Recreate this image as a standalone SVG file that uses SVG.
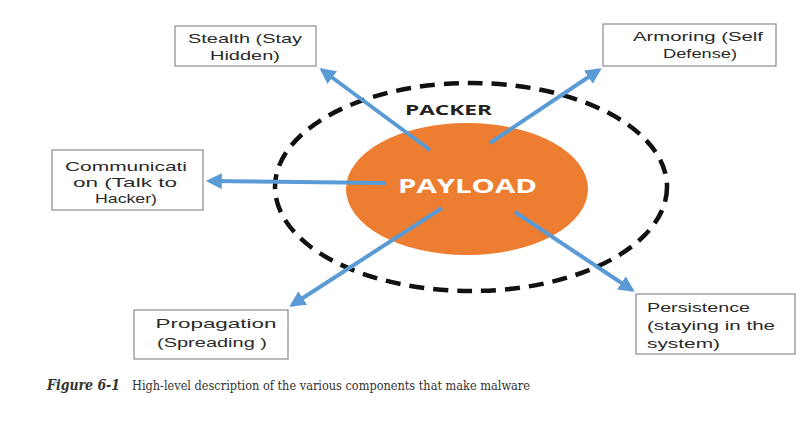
<svg xmlns="http://www.w3.org/2000/svg" width="809" height="421" viewBox="0 0 809 421">
<defs>
<marker id="ah" viewBox="0 0 10 10" refX="8" refY="5" markerWidth="4" markerHeight="4" orient="auto" markerUnits="strokeWidth">
<path d="M0,0 L10,5 L0,10 z" fill="#5B9BD5"/>
</marker>
<style>
.box{fill:#fff;stroke:#8c8c8c;stroke-width:1.2}
.bt{font-family:"Liberation Sans","Open Sans",sans-serif;font-size:13.5px;fill:#2a2a2a;text-anchor:middle}
.bl{text-anchor:start}
.conn{stroke:#5B9BD5;stroke-width:4;fill:none;marker-end:url(#ah)}
</style>
</defs>
<rect width="809" height="421" fill="#fff"/>
<g id="packer">
<ellipse cx="471" cy="187" rx="196" ry="104" fill="none" stroke="#111" stroke-width="4.5" stroke-dasharray="15,9"/>
<text x="405" y="115" font-family="'Open Sans','Liberation Sans',sans-serif" font-weight="bold" font-size="15" fill="#222" textLength="87" lengthAdjust="spacingAndGlyphs">PACKER</text>
</g>
<g id="payload">
<ellipse cx="467" cy="189" rx="121" ry="66" fill="#ED7D31"/>
<text x="398" y="193" font-family="'Open Sans','Liberation Sans',sans-serif" font-weight="bold" font-size="19" fill="#fff" textLength="139" lengthAdjust="spacingAndGlyphs">PAYLOAD</text>
</g>
<g id="connectors">
<line class="conn" x1="430" y1="150" x2="322" y2="70"/>
<line class="conn" x1="490" y1="143" x2="599" y2="70"/>
<line class="conn" x1="386" y1="183" x2="209" y2="181"/>
<line class="conn" x1="442" y1="208" x2="292" y2="305"/>
<line class="conn" x1="515" y1="212" x2="632" y2="290"/>
</g>
<g id="stealth">
<rect class="box" x="175" y="26" width="141" height="40"/>
<text class="bt" x="245" y="43" textLength="114" lengthAdjust="spacingAndGlyphs">Stealth (Stay</text>
<text class="bt" x="245" y="60" textLength="70" lengthAdjust="spacingAndGlyphs">Hidden)</text>
</g>
<g id="armoring">
<rect class="box" x="603" y="24" width="173" height="42"/>
<text class="bt" x="698" y="41" textLength="130" lengthAdjust="spacingAndGlyphs">Armoring (Self</text>
<text class="bt" x="700" y="58" textLength="74" lengthAdjust="spacingAndGlyphs">Defense)</text>
</g>
<g id="communication">
<rect class="box" x="52" y="150" width="151" height="60"/>
<text class="bt" x="126" y="171" textLength="122" lengthAdjust="spacingAndGlyphs">Communicati</text>
<text class="bt" x="125" y="187" textLength="104" lengthAdjust="spacingAndGlyphs">on (Talk to</text>
<text class="bt" x="126" y="203" textLength="62" lengthAdjust="spacingAndGlyphs">Hacker)</text>
</g>
<g id="propagation">
<rect class="box" x="134" y="310" width="154" height="49"/>
<text class="bt" x="216" y="328" textLength="121" lengthAdjust="spacingAndGlyphs">Propagation</text>
<text class="bt" x="212" y="347" textLength="110" lengthAdjust="spacingAndGlyphs">(Spreading )</text>
</g>
<g id="persistence">
<rect class="box" x="636" y="294" width="159" height="60"/>
<text class="bt bl" x="647" y="312" textLength="103" lengthAdjust="spacingAndGlyphs">Persistence</text>
<text class="bt bl" x="647" y="330" textLength="128" lengthAdjust="spacingAndGlyphs">(staying in the</text>
<text class="bt bl" x="647" y="348" textLength="73" lengthAdjust="spacingAndGlyphs">system)</text>
</g>
<g id="caption">
<text x="47" y="390" font-family="'DejaVu Serif','Liberation Serif',serif" font-weight="bold" font-style="italic" font-size="14" fill="#333" textLength="73" lengthAdjust="spacingAndGlyphs">Figure 6-1</text>
<text x="132" y="390" font-family="'DejaVu Serif','Liberation Serif',serif" font-size="12.5" fill="#333" textLength="398" lengthAdjust="spacingAndGlyphs">High-level description of the various components that make malware</text>
</g>
</svg>
